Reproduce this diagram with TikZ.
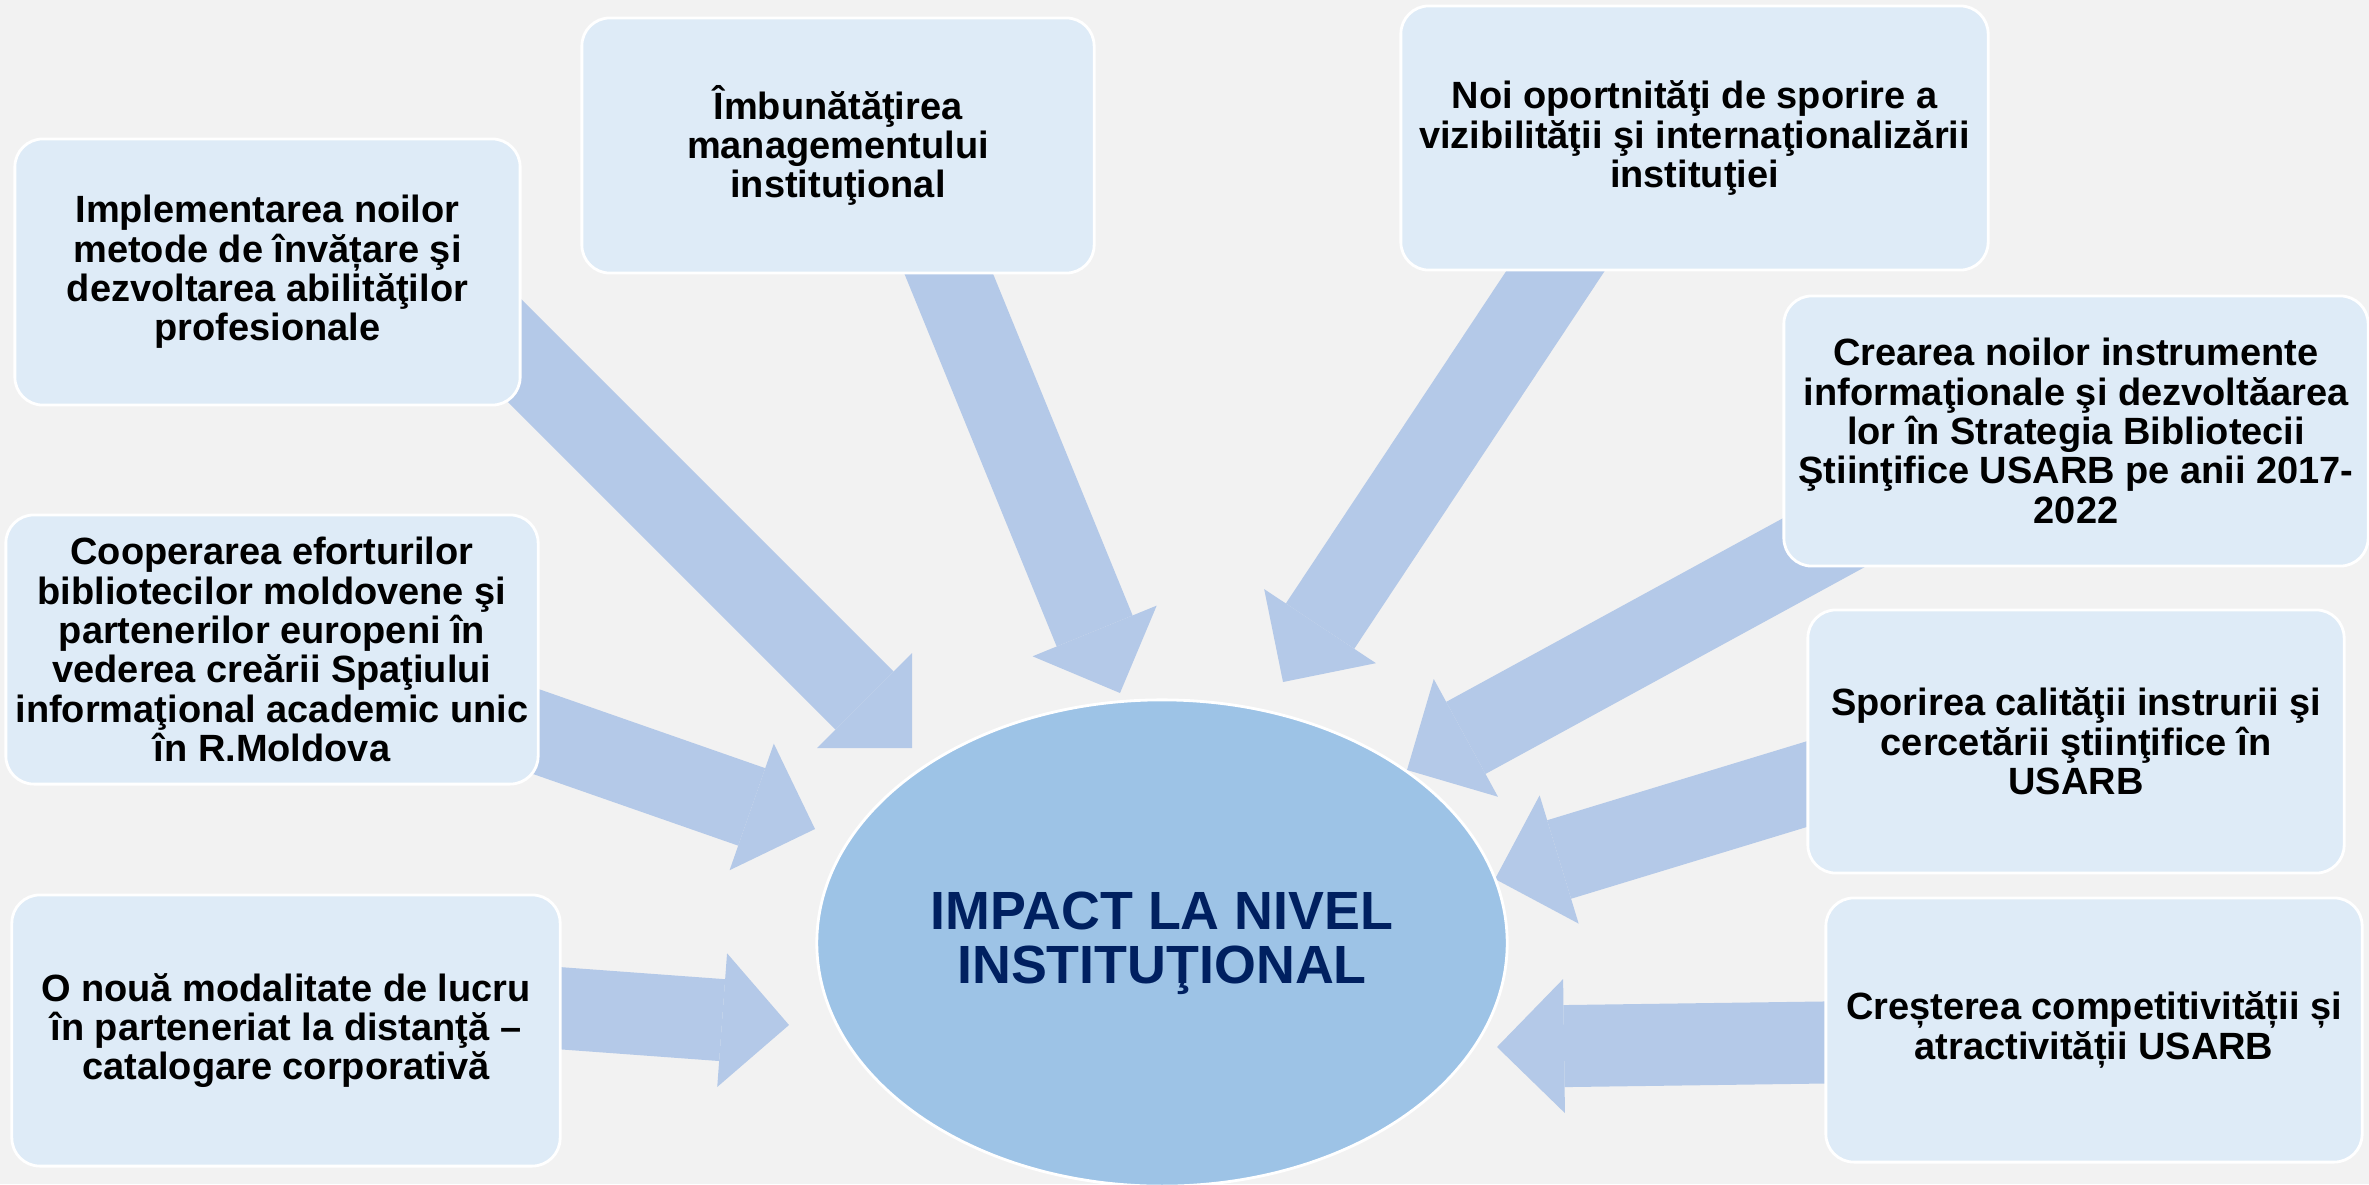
\documentclass[tikz,border=0pt]{standalone}
\usepackage{fontspec}
\setmainfont{Liberation Sans}
\usetikzlibrary{shapes.geometric,arrows.meta}
\definecolor{bgcol}{HTML}{F2F2F2}
\definecolor{cardcol}{HTML}{DEEBF7}
\definecolor{hubcol}{HTML}{9DC3E6}
\definecolor{flowcol}{HTML}{B4C9E8}
\definecolor{navy}{HTML}{002060}
\pgfdeclarelayer{bg}
\pgfdeclarelayer{flows}
\pgfsetlayers{bg,flows,main}
\begin{document}
\begin{tikzpicture}[x=0.01cm, y=-0.01cm,
    card/.style = {draw=white, line width=0.8pt, fill=cardcol, rounded corners=0.28cm, align=center, inner sep=0pt, font=\bfseries\fontsize{10.8}{11.2}\selectfont},
    hub/.style = {draw=white, line width=0.8pt, fill=hubcol, ellipse, inner sep=0pt, minimum width=6.9cm, minimum height=4.86cm, align=center, text=navy, font=\bfseries\fontsize{15.3}{15.3}\selectfont},
    flow/.style = {draw=flowcol, line width=0.82cm, -{Triangle[length=0.67cm, width=1.34cm, line width'=0pt]}}]
    \useasboundingbox (0,0) rectangle (2369,1184);
    \begin{pgfonlayer}{bg}
        \fill[bgcol] (0,0) rectangle (2369,1184);
    \end{pgfonlayer}

    % centre
    \node[hub] (0) at (1162,943) {IMPACT LA NIVEL\\INSTITUŢIONAL};

    % left column
    \node[card, minimum width=5.05cm, minimum height=2.66cm] (1) at (267.5,272) {Implementarea noilor\\metode de învățare şi\\dezvoltarea abilităţilor\\profesionale};
    \node[card, minimum width=5.32cm, minimum height=2.69cm] (2) at (272,649.5) {Cooperarea eforturilor\\bibliotecilor moldovene şi\\partenerilor europeni în\\vederea creării Spaţiului\\informaţional academic unic\\în R.Moldova};
    \node[card, minimum width=5.48cm, minimum height=2.71cm] (3) at (286,1030.5) {O nouă modalitate de lucru\\în parteneriat la distanţă –\\catalogare corporativă};

    % top
    \node[card, minimum width=5.12cm, minimum height=2.55cm] (4) at (838,145.5) {Îmbunătăţirea\\managementului\\instituţional};
    \node[card, minimum width=5.87cm, minimum height=2.64cm] (5) at (1694.5,138) {Noi oportnităţi de sporire a\\vizibilităţii şi internaţionalizării\\instituţiei};

    % right column
    \node[card, minimum width=5.84cm, minimum height=2.70cm] (6) at (2076,431) {Crearea noilor instrumente\\informaţionale şi dezvoltăarea\\lor în Strategia Bibliotecii\\Ştiinţifice USARB pe anii 2017-\\2022};
    \node[card, minimum width=5.36cm, minimum height=2.63cm] (7) at (2076,741.5) {Sporirea calităţii instrurii şi\\cercetării ştiinţifice în\\USARB};
    \node[card, minimum width=5.36cm, minimum height=2.64cm] (8) at (2094,1030) {Creșterea competitivității și\\atractivității USARB};

    % block arrows, tails hidden under the boxes
    \coordinate (q1) at (480,316);   \coordinate (p1) at (912,748);
    \coordinate (q2) at (939,250);   \coordinate (p2) at (1120,693);
    \coordinate (q3) at (1576,240);  \coordinate (p3) at (1283,682);
    \coordinate (q4) at (1880,512);  \coordinate (p4) at (1407,770);
    \coordinate (q5) at (1840,774);  \coordinate (p5) at (1495,879);
    \coordinate (q6) at (1860,1042); \coordinate (p6) at (1497,1047);
    \coordinate (q7) at (530,1006);  \coordinate (p7) at (789,1025);
    \coordinate (q8) at (500,719);   \coordinate (p8) at (815,829);
    \begin{pgfonlayer}{flows}
        \draw[flow] (q1) -- (p1);
        \draw[flow] (q2) -- (p2);
        \draw[flow] (q3) -- (p3);
        \draw[flow] (q4) -- (p4);
        \draw[flow] (q5) -- (p5);
        \draw[flow] (q6) -- (p6);
        \draw[flow] (q7) -- (p7);
        \draw[flow] (q8) -- (p8);
    \end{pgfonlayer}

\end{tikzpicture}
\end{document}
